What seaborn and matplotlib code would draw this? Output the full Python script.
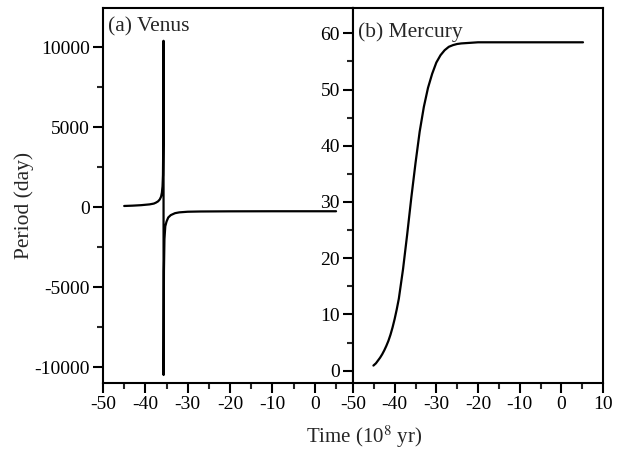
import numpy as np
import pandas as pd
import matplotlib
matplotlib.use("Agg")
import matplotlib.pyplot as plt
from matplotlib.ticker import MultipleLocator
import seaborn as sns

# Venus: time (10^8 yr) and rotation period (day)
venus_time = [-45, -43, -41, -39, -38, -37.5, -37, -36.6, -36.3, -36.1, -35.95,
              -35.85, -35.78, -35.72, -35.70, -35.62, -35.5, -35.3, -35.0, -34.6,
              -34.0, -33.0, -32.0, -30.0, -27, -20, -10, 0, 5]
venus_period = [70, 90, 120, 170, 220, 280, 360, 480, 650, 900, 1300,
                2000, 4000, 10400, -10500, -4000, -2000, -1200, -900, -650,
                -500, -380, -330, -290, -275, -265, -260, -260, -260]

# Mercury: time (10^8 yr) and rotation period (day)
mercury_time = [-45.1, -44.5, -44, -43.5, -43, -42.5, -42, -41.5, -41, -40.5, -40,
                -39.5, -39, -38, -37, -36, -35, -34, -33,
                -32, -31, -30, -29, -28, -27, -26, -25, -24, -22, -20, -15, -10,
                -5, 0, 5.2]
mercury_period = [0.9, 1.3, 1.8, 2.3, 2.9, 3.6, 4.4, 5.3, 6.4, 7.7, 9.2,
                  10.9, 12.8, 18.0, 24.2, 30.8, 36.9, 42.5,
                  46.9, 50.3, 52.8, 54.8, 56.1, 57.0, 57.6, 57.9, 58.1, 58.2, 58.3,
                  58.4, 58.4, 58.4, 58.4, 58.4, 58.4]

panel_labels = ["(a) Venus", "(b) Mercury"]
x_label = "Time (10$^{8}$ yr)"
y_label = "Period (day)"

sns.set_theme(style="ticks")
plt.rcParams["font.family"] = ["Liberation Serif", "DejaVu Serif"]
plt.rcParams["mathtext.fontset"] = "stix"
plt.rcParams["axes.unicode_minus"] = False
plt.rcParams["axes.linewidth"] = 1.5

fig = plt.figure(figsize=(6.31, 4.53), dpi=100)
W, H = 631, 453
axA = fig.add_axes([103 / W, (H - 383) / H, 250 / W, 375 / H])
axB = fig.add_axes([353 / W, (H - 383) / H, 250 / W, 375 / H])

dfV = pd.DataFrame({"t": venus_time, "p": venus_period})
dfM = pd.DataFrame({"t": mercury_time, "p": mercury_period})
sns.lineplot(data=dfV, x="t", y="p", ax=axA, color="black", lw=1.6, sort=False,
             estimator=None)
sns.lineplot(data=dfM, x="t", y="p", ax=axB, color="black", lw=1.6, sort=False,
             estimator=None)

axA.set_xlim(-50, 9)
axA.set_ylim(-11000, 12450)
axB.set_xlim(-50, 10)
axB.set_ylim(-2.2, 64.5)

for ax in (axA, axB):
    ax.xaxis.set_major_locator(MultipleLocator(10))
    ax.xaxis.set_minor_locator(MultipleLocator(5))
    ax.tick_params(which="major", direction="out", length=7, width=1.5,
                   labelsize=14, colors="black", pad=2.5)
    ax.tick_params(which="minor", direction="out", length=4, width=1.5)
    for s in ax.spines.values():
        s.set_visible(True)
        s.set_linewidth(1.5)
        s.set_color("black")
    ax.set_xlabel("")
    ax.set_ylabel("")
    ax.tick_params(top=False, right=False, which="both")

axA.yaxis.set_major_locator(MultipleLocator(5000))
axA.yaxis.set_minor_locator(MultipleLocator(2500))
axB.yaxis.set_major_locator(MultipleLocator(10))
axB.yaxis.set_minor_locator(MultipleLocator(5))

fig.text(24 / W, 1 - 205 / H, y_label, fontsize=15.5, rotation=90,
         ha="center", va="center")

axA.text(0.02, 0.975, panel_labels[0], transform=axA.transAxes, fontsize=15.5,
         va="top", ha="left")
axB.text(0.02, 0.962, panel_labels[1], transform=axB.transAxes, fontsize=15.5,
         va="top", ha="left")

fig.text(364 / W, 1 - 437 / H, x_label, fontsize=15, ha="center", va="center")

fig.savefig("out.png", dpi=100)
